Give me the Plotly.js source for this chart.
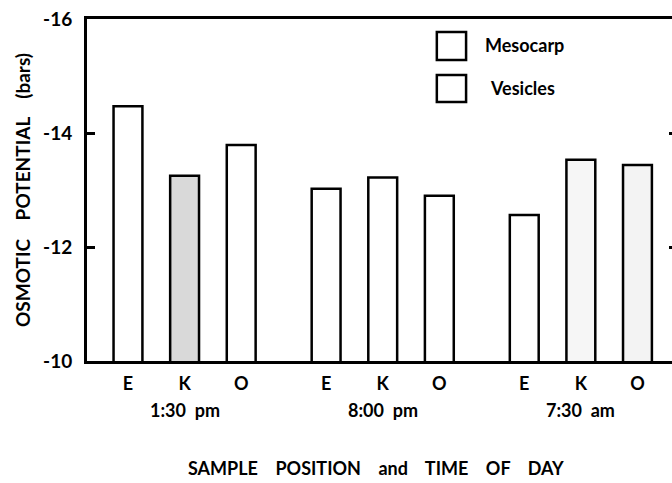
<!DOCTYPE html>
<html>
<head>
<meta charset="utf-8">
<script src="https://cdn.plot.ly/plotly-3.0.1.min.js"></script>
<style>html,body{margin:0;padding:0;background:#fff}#chart{width:672px;height:483px}</style>
</head>
<body>
<div id="chart"></div>
<script>
// ---- data ----
const times = ["1:30&nbsp; pm", "8:00&nbsp; pm", "7:30&nbsp; am"];
const positions = ["E", "K", "O"];
const values130pm = [-14.47, -13.25, -13.79];
const values800pm = [-13.02, -13.22, -12.90];
const values730am = [-12.56, -13.53, -13.44];
const seriesNames = ["Mesocarp", "Vesicles"];
const yTicks = [-16, -14, -12, -10];
const yTickText = ["-16", "-14", "-12", "-10"];

// ---- styles ----
const groupStep = 3.5;
const barFill = [
  ["#ffffff", "#d9d9d9", "#ffffff"],
  ["#ffffff", "#ffffff", "#ffffff"],
  ["#ffffff", "#f6f6f6", "#f3f3f3"]
];
const FONT = "Lato, 'Open Sans', sans-serif";
const W = 700;

const groups = [values130pm, values800pm, values730am];
const xs = [], ys = [], cols = [], tickv = [], tickt = [], groupCenters = [];
groups.forEach((vals, g) => {
  vals.forEach((v, i) => {
    const x = g * groupStep + i;
    xs.push(x); ys.push(v); cols.push(barFill[g][i]);
    tickv.push(x); tickt.push(positions[i]);
  });
  groupCenters.push(g * groupStep + (vals.length - 1) / 2);
});

const trace = {
  type: "bar", x: xs, y: ys, width: 0.51, name: seriesNames[0],
  marker: {color: cols, line: {color: "#000", width: 2.5}},
  showlegend: false, hoverinfo: "x+y"
};
const rightTicks = {
  type: "scatter", x: [xs[0]], y: [yTicks[1]], yaxis: "y2",
  mode: "markers", marker: {opacity: 0}, showlegend: false, hoverinfo: "skip"
};

const annotations = [];
times.forEach((t, g) => {
  annotations.push({text: t, x: groupCenters[g], xref: "x", y: (361 - 410) / 342, yref: "paper",
    yanchor: "middle", showarrow: false, font: {family: FONT, size: 18, color: "#000", weight: W}});
});
annotations.push({text: "SAMPLE&nbsp;&nbsp;&nbsp; POSITION&nbsp;&nbsp;&nbsp; and&nbsp;&nbsp;&nbsp; TIME&nbsp;&nbsp;&nbsp; OF&nbsp;&nbsp;&nbsp; DAY",
  x: (376 - 87) / 585, xref: "paper", y: (361 - 468) / 342, yref: "paper", yanchor: "middle",
  showarrow: false, font: {family: FONT, size: 18, color: "#000", weight: W}});
annotations.push({text: seriesNames[0], x: 0.677, xref: "paper", xanchor: "left", y: 0.924, yref: "paper",
  yanchor: "middle", showarrow: false, font: {family: FONT, size: 18, color: "#000", weight: W}});
annotations.push({text: seriesNames[1], x: 0.685, xref: "paper", xanchor: "left", y: 0.798, yref: "paper",
  yanchor: "middle", showarrow: false, font: {family: FONT, size: 18, color: "#000", weight: W}});

const shapes = [
  {type: "rect", xref: "paper", yref: "paper", x0: 0.598, x1: 0.648, y0: 0.880, y1: 0.962,
   line: {color: "#000", width: 2.5}, fillcolor: "#fff"},
  {type: "rect", xref: "paper", yref: "paper", x0: 0.598, x1: 0.648, y0: 0.757, y1: 0.836,
   line: {color: "#000", width: 2.5}, fillcolor: "#fff"}
];

const layout = {
  width: 672, height: 483,
  margin: {l: 87, r: 0, t: 19, b: 122, pad: 0},
  paper_bgcolor: "#fff", plot_bgcolor: "#fff",
  font: {family: FONT, color: "#000"},
  xaxis: {
    range: [-0.724, 9.61], tickvals: tickv, ticktext: tickt, ticks: "",
    showgrid: false, zeroline: false, showline: true, linewidth: 3, linecolor: "#000",
    mirror: true, tickfont: {family: FONT, size: 18, weight: W}, ticklabelstandoff: 4
  },
  yaxis: {
    range: [-10, -16], tickvals: yTicks, ticktext: yTickText, ticks: "inside",
    ticklen: 8, tickwidth: 3, tickcolor: "#000",
    showgrid: false, zeroline: false, showline: true, linewidth: 3, linecolor: "#000",
    tickfont: {family: FONT, size: 19, weight: W}, ticklabelstandoff: 8,
    title: {text: "OSMOTIC&nbsp;&nbsp;&nbsp; POTENTIAL&nbsp;&nbsp;&nbsp; (bars)", standoff: 8,
            font: {family: FONT, size: 19, weight: W}}
  },
  yaxis2: {
    overlaying: "y", side: "right", range: [-10, -16], tickvals: [-14, -12],
    showticklabels: false, ticks: "inside", ticklen: 3, tickwidth: 3, tickcolor: "#000",
    showgrid: false, zeroline: false, showline: false
  },
  annotations: annotations,
  shapes: shapes,
  showlegend: false,
  bargap: 0
};

Plotly.newPlot("chart", [trace, rightTicks], layout, {displayModeBar: false, staticPlot: true});
</script>
</body>
</html>
